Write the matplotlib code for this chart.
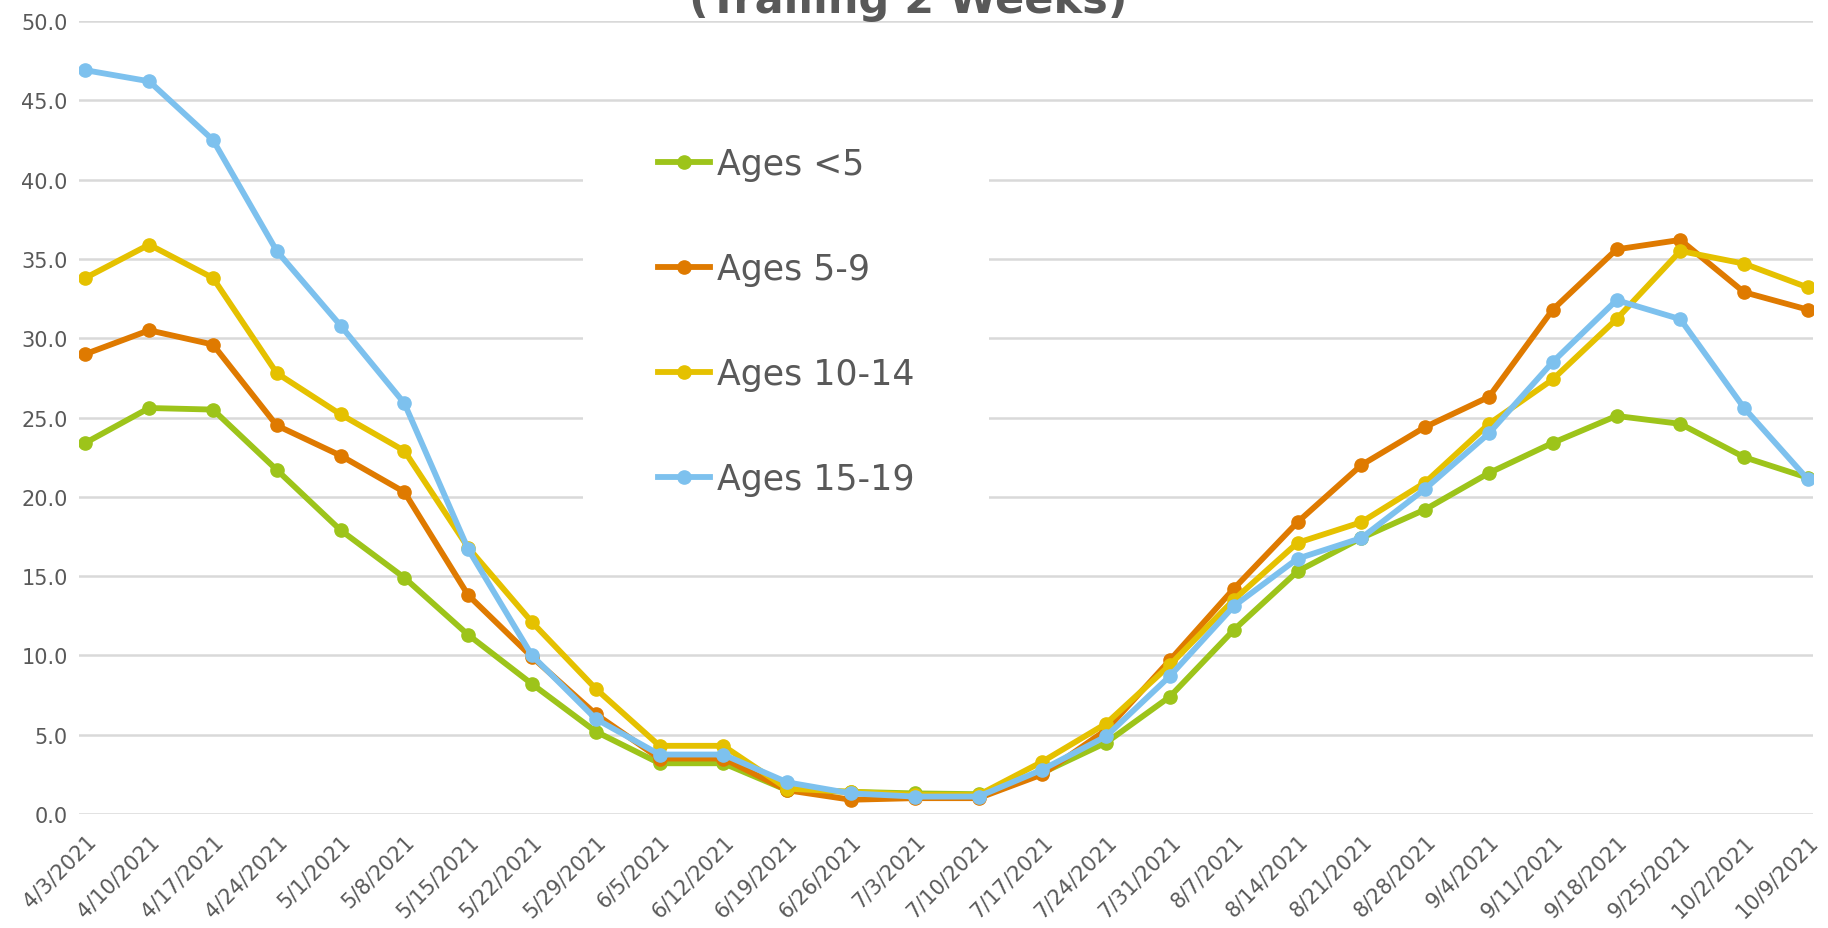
import matplotlib
matplotlib.use("Agg")
import matplotlib.pyplot as plt
from matplotlib.patches import Rectangle
import numpy as np

# weekly dates (trailing 2 weeks)
dates = ["4/3/2021", "4/10/2021", "4/17/2021", "4/24/2021", "5/1/2021", "5/8/2021",
         "5/15/2021", "5/22/2021", "5/29/2021", "6/5/2021", "6/12/2021", "6/19/2021",
         "6/26/2021", "7/3/2021", "7/10/2021", "7/17/2021", "7/24/2021", "7/31/2021",
         "8/7/2021", "8/14/2021", "8/21/2021", "8/28/2021", "9/4/2021", "9/11/2021",
         "9/18/2021", "9/25/2021", "10/2/2021", "10/9/2021"]

ages_under5 = [23.4, 25.6, 25.5, 21.7, 17.9, 14.9, 11.3, 8.2, 5.2, 3.2, 3.2, 1.5,
               1.4, 1.3, 1.25, 2.6, 4.5, 7.4, 11.6, 15.3, 17.4, 19.2, 21.5, 23.4,
               25.1, 24.6, 22.5, 21.2]
ages_5_9 = [29.0, 30.5, 29.6, 24.5, 22.6, 20.3, 13.8, 9.9, 6.3, 3.5, 3.5, 1.5,
            0.9, 1.0, 1.0, 2.5, 5.3, 9.7, 14.2, 18.4, 22.0, 24.4, 26.3, 31.8,
            35.6, 36.2, 32.9, 31.8]
ages_10_14 = [33.8, 35.9, 33.8, 27.8, 25.2, 22.9, 16.8, 12.1, 7.9, 4.3, 4.3, 1.6,
              1.4, 1.2, 1.2, 3.3, 5.7, 9.4, 13.5, 17.1, 18.4, 20.9, 24.6, 27.4,
              31.2, 35.5, 34.7, 33.2]
ages_15_19 = [46.9, 46.2, 42.5, 35.5, 30.8, 25.9, 16.7, 10.0, 6.0, 3.75, 3.75, 2.0,
              1.3, 1.1, 1.1, 2.8, 4.9, 8.7, 13.1, 16.1, 17.4, 20.5, 24.0, 28.5,
              32.4, 31.2, 25.6, 21.1]

series = [("Ages <5", ages_under5, "#9DC41A"),
          ("Ages 5-9", ages_5_9, "#DF7A00"),
          ("Ages 10-14", ages_10_14, "#E5C100"),
          ("Ages 15-19", ages_15_19, "#7DC1EE")]

grey = "#595959"

fig = plt.figure(figsize=(18.28, 9.29), dpi=100)
ax = fig.add_axes([0.0432, 0.1227, 0.9486, 0.8536])

x = np.arange(len(dates))
for name, vals, col in series:
    ax.plot(x, vals, color=col, lw=4.2, marker="o", ms=9.5, label=name,
            solid_joinstyle="round", zorder=3)

ax.set_xlim(-0.1, len(dates) - 1 + 0.08)
ax.set_ylim(0, 50)
ax.set_yticks(np.arange(0, 50.1, 5))
ax.set_yticklabels([f"{v:.1f}" for v in np.arange(0, 50.1, 5)])
ax.set_xticks(x)
ax.set_xticklabels(dates, rotation=45, ha="right", rotation_mode="anchor")
ax.tick_params(axis="both", length=0, labelsize=15, colors=grey)
ax.tick_params(axis="x", pad=12)
ax.tick_params(axis="y", pad=8)
ax.grid(axis="y", color="#D9D9D9", lw=1.8)
ax.set_axisbelow(True)
for s in ax.spines.values():
    s.set_visible(False)

# white legend box hiding the gridlines behind it
ax.add_patch(Rectangle((0.2907, 0.3745), 0.2341, 0.5005, transform=ax.transAxes,
                       facecolor="white", edgecolor="none", zorder=1))

leg = ax.legend(loc="center", bbox_to_anchor=(0.4077, 0.621), fontsize=25,
                labelspacing=2.04, handlelength=1.5, handletextpad=0.2,
                frameon=False, borderpad=0)
for t in leg.get_texts():
    t.set_color(grey)

fig.text(0.497, 0.986, "(Trailing 2 Weeks)", ha="center", va="baseline",
         fontsize=31, fontweight="bold", color=grey)

fig.savefig("out.png", dpi=100)
